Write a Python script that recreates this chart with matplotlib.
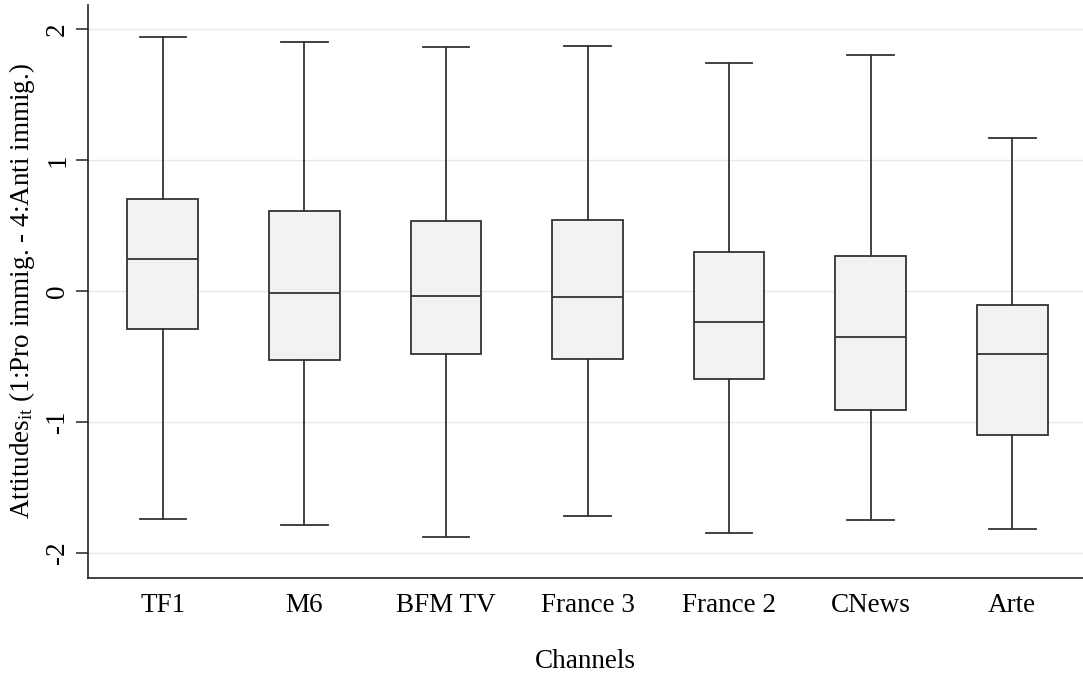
import numpy as np
import matplotlib
matplotlib.use("Agg")
import matplotlib.pyplot as plt

plt.rcParams['font.family'] = ['Liberation Serif', 'DejaVu Serif']
plt.rcParams['mathtext.fontset'] = 'custom'
plt.rcParams['mathtext.rm'] = 'Liberation Serif'
plt.rcParams['mathtext.it'] = 'Liberation Serif:italic'

# channels and box statistics
channels = ["TF1", "M6", "BFM TV", "France 3", "France 2", "CNews", "Arte"]
whisker_low = [-1.74, -1.79, -1.88, -1.72, -1.85, -1.75, -1.82]
q1 = [-0.29, -0.53, -0.48, -0.52, -0.67, -0.91, -1.10]
median = [0.24, -0.02, -0.04, -0.05, -0.24, -0.35, -0.48]
q3 = [0.70, 0.61, 0.53, 0.54, 0.30, 0.27, -0.11]
whisker_high = [1.94, 1.90, 1.86, 1.87, 1.74, 1.80, 1.17]

stats = []
for i, name in enumerate(channels):
    stats.append({"label": name, "whislo": whisker_low[i], "q1": q1[i], "med": median[i],
                  "q3": q3[i], "whishi": whisker_high[i], "fliers": []})

fig = plt.figure(figsize=(10.83, 6.73), dpi=100)
ax = fig.add_axes([0.0815, 0.1416, 0.9185, 0.8514])

edge = "#333333"
lw = 1.3
ax.bxp(stats, positions=np.arange(len(channels)), widths=0.5, patch_artist=True,
       showfliers=False, capwidths=0.33,
       boxprops=dict(facecolor="#f2f2f2", edgecolor=edge, linewidth=lw),
       medianprops=dict(color=edge, linewidth=lw),
       whiskerprops=dict(color=edge, linewidth=lw),
       capprops=dict(color=edge, linewidth=lw), zorder=3)

ax.set_xlim(-0.527, 6.5)
ax.set_ylim(-2.19, 2.185)
ax.set_yticks([-2, -1, 0, 1, 2])
ax.set_yticklabels(["-2", "-1", "0", "1", "2"], rotation=90, va="center")
ax.grid(axis="y", color="#e8e8e8", linewidth=1.0, zorder=0)
ax.set_axisbelow(True)

for side in ["top", "right"]:
    ax.spines[side].set_visible(False)
for side in ["left", "bottom"]:
    ax.spines[side].set_color("#222222")
    ax.spines[side].set_linewidth(1.2)

ax.tick_params(axis="y", length=9, width=1.1, color="#222222", labelsize=19.5, pad=4)
ax.tick_params(axis="x", length=0, labelsize=19.5, pad=11)

ax.set_xlabel("Channels", fontsize=19.5, labelpad=22)
ax.set_ylabel(r"Attitudes$_{\mathrm{it}}$ (1:Pro immig. - 4:Anti immig.)", fontsize=19.5, labelpad=6)

fig.savefig("out.png", dpi=100, facecolor="white")
